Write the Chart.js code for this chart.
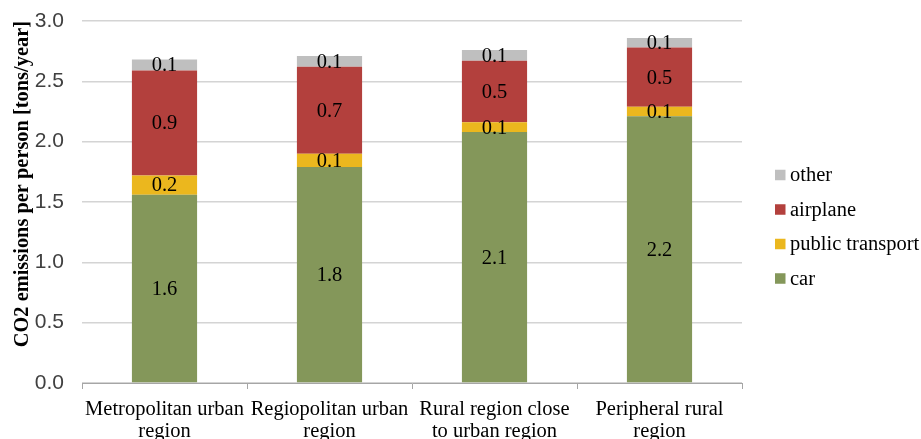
<!DOCTYPE html>
<html>
<head>
<meta charset="utf-8">
<script src="https://cdn.jsdelivr.net/npm/chart.js@4.4.1/dist/chart.umd.min.js"></script>
<style>
  html, body { margin: 0; padding: 0; background: #fff; }
  #wrap { width: 921px; height: 439px; position: relative; }
</style>
</head>
<body>
<div id="wrap"><canvas id="c" width="921" height="439"></canvas></div>
<script>
// ---- data ----
const categories = [
  ['Metropolitan urban', 'region'],
  ['Regiopolitan urban', 'region'],
  ['Rural region close', 'to urban region'],
  ['Peripheral rural', 'region']
];
const seriesNames = ['car', 'public transport', 'airplane', 'other'];
const carValues = [1.56, 1.79, 2.08, 2.21];
const publicTransportValues = [0.16, 0.11, 0.08, 0.08];
const airplaneValues = [0.87, 0.72, 0.51, 0.49];
const otherValues = [0.09, 0.09, 0.09, 0.08];
const yTickValues = [0, 0.5, 1.0, 1.5, 2.0, 2.5, 3.0];
const yTitle = 'CO2 emissions per person [tons/year]';

const colors = ['#84975A', '#EBB71E', '#B3403D', '#BFBFBF'];
const serif = "'Liberation Serif', 'Times New Roman', serif";
const sans = "'Liberation Sans', Arial, sans-serif";

const segmentLabels = {
  id: 'segmentLabels',
  afterDatasetsDraw(chart) {
    const ctx = chart.ctx;
    ctx.save();
    ctx.font = '20.5px ' + serif;
    ctx.fillStyle = '#000';
    ctx.textAlign = 'center';
    ctx.textBaseline = 'middle';
    chart.data.datasets.forEach((ds, di) => {
      const meta = chart.getDatasetMeta(di);
      meta.data.forEach((el, i) => {
        const p = el.getProps(['x', 'y', 'base'], true);
        ctx.fillText(ds.data[i].toFixed(1), p.x, (p.y + p.base) / 2 + 1);
      });
    });
    ctx.restore();
  }
};

const sideLegend = {
  id: 'sideLegend',
  afterDraw(chart) {
    const ctx = chart.ctx;
    const items = chart.data.datasets.map((d, i) => ({ label: d.label, color: d.backgroundColor })).reverse();
    const x0 = 775, y0 = 175, step = 34.5, box = 10.5;
    ctx.save();
    ctx.font = '20.5px ' + serif;
    ctx.textBaseline = 'middle';
    ctx.textAlign = 'left';
    items.forEach((it, k) => {
      const cy = y0 + k * step;
      ctx.fillStyle = it.color;
      ctx.fillRect(x0, cy - box / 2, box, box);
      ctx.fillStyle = '#000';
      ctx.fillText(it.label, x0 + 15, cy + 1);
    });
    ctx.restore();
  }
};

const valueSets = [carValues, publicTransportValues, airplaneValues, otherValues];

new Chart(document.getElementById('c'), {
  type: 'bar',
  data: {
    labels: categories,
    datasets: seriesNames.map((name, i) => ({
      label: name,
      data: valueSets[i],
      backgroundColor: colors[i],
      borderWidth: 0,
      categoryPercentage: 1.0,
      barPercentage: 0.395
    }))
  },
  options: {
    responsive: false,
    animation: false,
    events: [],
    layout: { padding: { left: 8, right: 179, top: 21, bottom: 0 } },
    plugins: {
      legend: { display: false },
      tooltip: { enabled: false }
    },
    scales: {
      x: {
        stacked: true,
        afterFit(scale) { scale.paddingLeft = 0; scale.paddingRight = 0; scale.height = 56; },
        border: { display: true, color: '#A6A6A6', width: 1 },
        grid: { display: true, drawOnChartArea: false, drawTicks: true, tickLength: 6, color: '#A6A6A6', offset: true },
        ticks: {
          color: '#000',
          font: { family: serif, size: 20.5, lineHeight: 1.05 },
          padding: 10,
          maxRotation: 0,
          autoSkip: false
        }
      },
      y: {
        stacked: true,
        min: 0,
        max: 3,
        afterBuildTicks(scale) { scale.ticks = yTickValues.map(v => ({ value: v })); },
        afterFit(scale) { scale.paddingTop = 0; scale.paddingBottom = 0; scale.width = 74; },
        border: { display: false },
        grid: { color: '#D4D4D4', lineWidth: 1.5, drawTicks: false },
        ticks: {
          color: '#404040',
          font: { family: sans, size: 21 },
          padding: 18,
          callback: v => Number(v).toFixed(1)
        },
        title: {
          display: true,
          text: yTitle,
          align: 'end',
          color: '#000',
          font: { family: serif, size: 20.4, weight: 'bold' },
          padding: { top: 2, bottom: 1 }
        }
      }
    }
  },
  plugins: [segmentLabels, sideLegend]
});
</script>
</body>
</html>
